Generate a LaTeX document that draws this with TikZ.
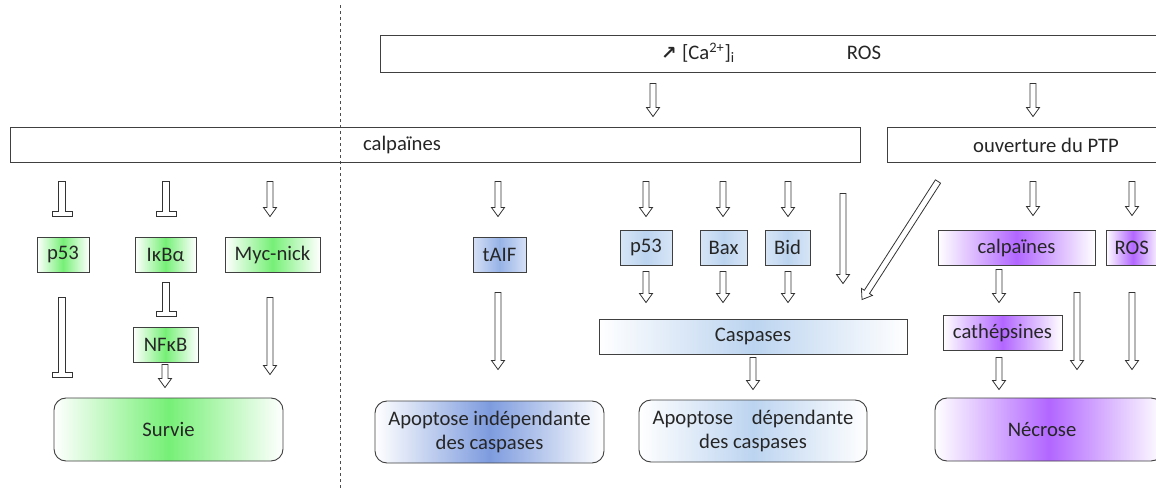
\documentclass[tikz,border=0pt]{standalone}
\usepackage{fontspec}
\setmainfont{Carlito}
\newfontfamily\symfont{DejaVu Sans}
\usetikzlibrary{calc}
\definecolor{gC}{RGB}{118,240,118}
\definecolor{bL}{RGB}{188,212,240}
\definecolor{bM}{RGB}{150,178,230}
\definecolor{bD}{RGB}{125,155,222}
\definecolor{pC}{RGB}{178,102,255}
\definecolor{txt}{RGB}{38,38,38}
\newcommand\arrW{2.3pt}
\newcommand\arrH{4.9pt}
\newcommand\arrK{6.8pt}
\newcommand\barW{7.5pt}
\newcommand\barT{3.75pt}
\newcommand\fsz{\fontsize{15.5pt}{18pt}\selectfont}
\tikzset{
  box/.style={draw=black!75, line width=0.7pt, inner sep=0pt, font=\fsz, text=txt},
  sz/.style 2 args={minimum width={#1*0.75pt}, minimum height={#2*0.75pt}},
  rnd/.style={rounded corners=9pt},
  grn/.style={left color=white, right color=white, middle color=gC},
  blueL/.style={left color=white!40!bL, right color=white!40!bL, middle color=bL},
  blueW/.style={left color=white, right color=white, middle color=bL},
  blueM/.style={left color=white!60!bM, right color=white!60!bM, middle color=bM},
  blueD/.style={left color=white, right color=white, middle color=bD},
  prp/.style={left color=white, right color=white, middle color=pC},
  lbl/.style={font=\fsz, text=txt, inner sep=0pt},
  arrsty/.style={draw=black!80, fill=white, line width=0.6pt, line join=miter}
}
% hollow block arrow
\newcommand\blk[2]{\draw[arrsty] let \p1=#1, \p2=#2, \n1={atan2(\y2-\y1,\x2-\x1)} in
 ($(\p1)+(\n1+90:\arrW)$) -- ($(\p2)+(\n1+180:\arrK)+(\n1+90:\arrW)$) -- ($(\p2)+(\n1+180:\arrK)+(\n1+90:\arrH)$) -- (\p2)
 -- ($(\p2)+(\n1+180:\arrK)+(\n1-90:\arrH)$) -- ($(\p2)+(\n1+180:\arrK)+(\n1-90:\arrW)$) -- ($(\p1)+(\n1-90:\arrW)$) -- cycle;}
% hollow inhibition (T) arrow
\newcommand\inh[2]{\draw[arrsty] let \p1=#1, \p2=#2, \n1={atan2(\y2-\y1,\x2-\x1)} in
 ($(\p1)+(\n1+90:2.6pt)$) -- ($(\p2)+(\n1+180:\barT)+(\n1+90:2.6pt)$) -- ($(\p2)+(\n1+180:\barT)+(\n1+90:\barW)$) -- ($(\p2)+(\n1+90:\barW)$)
 -- ($(\p2)+(\n1-90:\barW)$) -- ($(\p2)+(\n1+180:\barT)+(\n1-90:\barW)$) -- ($(\p2)+(\n1+180:\barT)+(\n1-90:2.6pt)$) -- ($(\p1)+(\n1-90:2.6pt)$) -- cycle;}
\begin{document}
\begin{tikzpicture}[x=0.75pt,y=-0.75pt]
\useasboundingbox (0,0) rectangle (1156,490);

% dashed separator
\coordinate (dtop) at (340,5);
\coordinate (dbot) at (340,490);
\draw[black!70, line width=0.6pt, dash pattern=on 2.5pt off 2pt] (dtop) -- (dbot);

% top bars
\node[box, sz={785}{37}] (topbar) at (772.5,53.5) {};
\node[lbl] (catxt) at (698,53) {{\symfont\bfseries\fontsize{14pt}{14pt}\selectfont ↗}\hspace{4pt}[Ca\textsuperscript{2+}]\textsubscript{i}};
\node[lbl] (rostxt) at (864,53) {ROS};
\node[box, sz={850}{35}] (calpbar) at (435,144.5) {};
\node[lbl] (calptxt) at (402,145) {calpaïnes};
\node[box, sz={278}{35}] (ptp) at (1026,144.5) {};
\node[lbl] (ptptxt) at (1046,145) {ouverture du PTP};

% left column (survival)
\node[box, grn, sz={52}{35}] (p53g) at (63,254.5) {p53};
\node[box, grn, sz={61}{35}] (ikb) at (165.5,254.5) {IκBα};
\node[box, grn, sz={95}{35}] (myc) at (272.5,254.5) {Myc-nick};
\node[box, grn, sz={65}{35}] (nfkb) at (165.5,344.5) {NFκB};
\node[box, grn, rnd, sz={229}{63}] (survie) at (168.5,429.5) {Survie};

% middle (apoptosis)
\node[box, blueM, sz={53}{35}] (taif) at (499.5,254.5) {tAIF};
\node[box, blueD, rnd, sz={229}{62}, align=center] (apind) at (489.5,432) {Apoptose indépendante\\des caspases};
\node[box, blueL, sz={52}{35}] (p53b) at (646,247.5) {p53};
\node[box, blueL, sz={47}{35}] (bax) at (723.5,247.5) {Bax};
\node[box, blueL, sz={45}{35}] (bid) at (787.5,247.5) {Bid};
\node[box, blueW, sz={308}{35}] (casp) at (753,336.5) {Caspases};
\node[box, blueW, rnd, sz={228}{62}, align=center] (apdep) at (753,431) {Apoptose\hspace{14pt}dépendante\\des caspases};

% right (necrosis)
\node[box, prp, sz={157}{35}] (calpP) at (1016.5,247.5) {calpaïnes};
\node[box, prp, sz={54}{35}] (rosP) at (1133,247.5) {\hspace*{-2pt}ROS};
\node[box, prp, sz={119}{35}] (cath) at (1002.5,332.5) {cathépsines};
\node[box, prp, rnd, sz={228}{63}] (necr) at (1049,429.5) {};
\node[lbl] (necrtxt) at (1042,430) {Nécrose};

% arrows from top bar
\blk{($(topbar.south)+(-119.5,11)$)}{($(calpbar.north)+(218,-10)$)}
\blk{($(topbar.south)+(260.5,11)$)}{($(ptp.north)+(7,-10)$)}

% left column
\inh{($(calpbar.south -| p53g.north)+(-1,19)$)}{($(p53g.north)+(-1,-20)$)}
\inh{($(calpbar.south -| ikb.north)+(0.5,19)$)}{($(ikb.north)+(0.5,-20)$)}
\blk{($(calpbar.south -| myc.north)+(-2.5,19)$)}{($(myc.north)+(-2.5,-20)$)}
\inh{($(ikb.south)+(0.5,10)$)}{($(nfkb.north)+(0.5,-10)$)}
\inh{($(p53g.south)+(-1,25)$)}{($(survie.north -| p53g.south)+(-1,-20)$)}
\blk{($(myc.south)+(-2.5,25)$)}{($(survie.north -| myc.south)+(-2.5,-23)$)}
\blk{($(nfkb.south)+(-0.5,2)$)}{($(survie.north)+(-3.5,-10)$)}

% middle
\blk{($(calpbar.south -| taif.north)+(-1.5,19)$)}{($(taif.north)+(-1.5,-20)$)}
\blk{($(taif.south)+(-1.5,20)$)}{($(apind.north)+(8.5,-31)$)}
\blk{($(calpbar.south -| p53b.north)+(0,19)$)}{($(p53b.north)+(0,-13)$)}
\blk{($(calpbar.south -| bax.north)+(-0.5,19)$)}{($(bax.north)+(-0.5,-13)$)}
\blk{($(calpbar.south -| bid.north)+(0.5,19)$)}{($(bid.north)+(0.5,-13)$)}
\blk{($(p53b.south)+(0,6)$)}{($(casp.north -| p53b.south)+(0,-16)$)}
\blk{($(bax.south)+(-0.5,6)$)}{($(casp.north -| bax.south)+(-0.5,-16)$)}
\blk{($(bid.south)+(0.5,6)$)}{($(casp.north -| bid.south)+(0.5,-16)$)}
\blk{($(calpbar.south)+(408,31)$)}{($(casp.north)+(90,-35)$)}
\blk{($(ptp.south)+(-88,19)$)}{($(casp.north)+(109,-19)$)}
\blk{($(casp.south)+(0,3)$)}{($(apdep.north)+(0,-10)$)}

% right
\blk{($(ptp.south)+(7,19)$)}{($(calpP.north)+(16.5,-14)$)}
\blk{($(ptp.south)+(106,19)$)}{($(rosP.north)+(-1,-14)$)}
\blk{($(calpP.south)+(-17.5,4)$)}{($(cath.north)+(-3.5,-12)$)}
\blk{($(cath.south)+(-3.5,7)$)}{($(necr.north -| cath.south)+(-3.5,-8)$)}
\blk{($(calpP.south)+(60.5,27)$)}{($(necr.north -| calpP.south)+(60.5,-28)$)}
\blk{($(rosP.south)+(-1,27)$)}{($(necr.north -| rosP.south)+(-1,-28)$)}
\end{tikzpicture}
\end{document}
